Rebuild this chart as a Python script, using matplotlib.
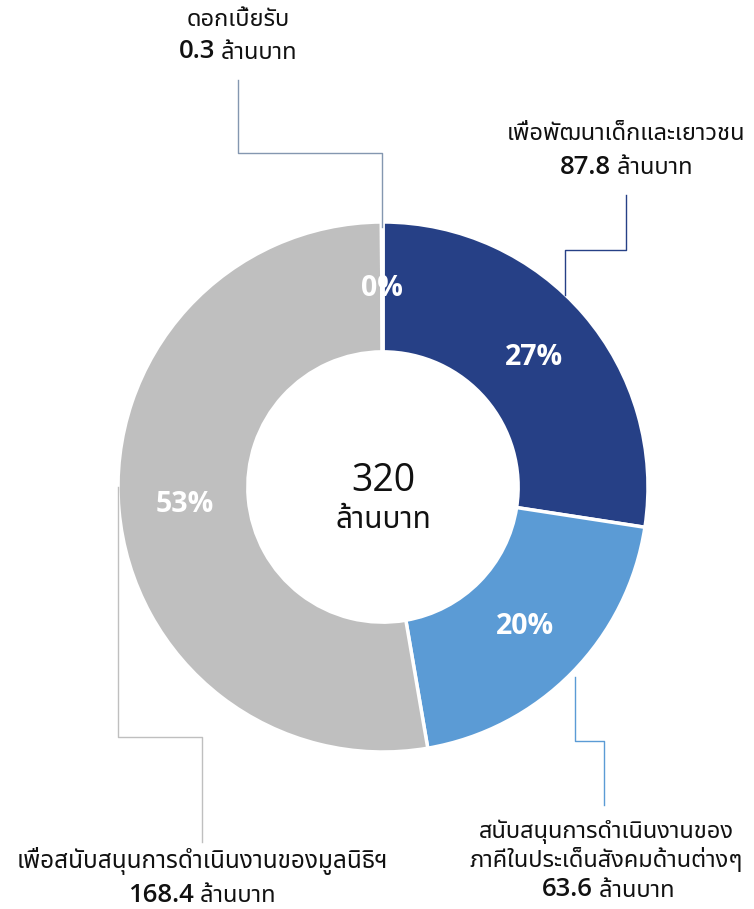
import matplotlib
matplotlib.use("Agg")
import matplotlib.pyplot as plt

# data
labels = ["เพื่อพัฒนาเด็กและเยาวชน",
          "สนับสนุนการดำเนินงานของ\nภาคีในประเด็นสังคมด้านต่างๆ",
          "เพื่อสนับสนุนการดำเนินงานของมูลนิธิฯ",
          "ดอกเบี้ยรับ"]
values = [87.8, 63.6, 168.4, 0.3]
colors = ["#264086", "#5B9BD5", "#BFBFBF", "#8497B0"]
line_colors = ["#264086", "#5B9BD5", "#BFBFBF", "#8497B0"]
total = 320
unit = "ล้านบาท"

THAI = ["Noto Sans Thai", "DejaVu Sans"]
NUM = ["Open Sans", "Noto Sans Thai", "DejaVu Sans"]
plt.rcParams['font.family'] = THAI

W, H = 754, 909
fig = plt.figure(figsize=(W / 100, H / 100), dpi=100)
ax = fig.add_axes([0, 0, 1, 1])
ax.axis('off')

def Y(py):
    return H - py

cx, cy, R = 383, 487, 265
wedges, texts, autotexts = ax.pie(
    values, colors=colors, startangle=90, counterclock=False,
    radius=R, center=(cx, Y(cy)), autopct='%.0f%%', pctdistance=0.75,
    wedgeprops=dict(width=R * 0.49, edgecolor='white', linewidth=2.5),
    textprops=dict(color='white', fontsize=20.5, fontweight='bold', family=NUM))
ax.set_xlim(0, W)
ax.set_ylim(0, H)
ax.set_aspect('equal')

# centre text
ax.text(cx, Y(481), str(total), ha='center', va='center', fontsize=27, family=NUM, color='#111111')
ax.text(cx, Y(520), unit, ha='center', va='center', fontsize=21.5, color='#111111')

renderer = fig.canvas.get_renderer()
TXT = 17

def value_line(x, py, val):
    a = ax.text(0, 0, f"{val:g}", fontsize=18.5, fontweight='semibold', family=NUM,
                va='center', ha='left', color='#111111')
    b = ax.text(0, 0, " " + unit, fontsize=TXT, va='center', ha='left', color='#111111')
    wa = a.get_window_extent(renderer).width
    wb = b.get_window_extent(renderer).width
    x0 = x - (wa + wb) / 2
    a.set_position((x0, Y(py)))
    b.set_position((x0 + wa, Y(py) - 1))

def leader(pts, color):
    xs = [p[0] for p in pts]
    ys = [Y(p[1]) for p in pts]
    ax.plot(xs, ys, color=color, lw=1)

# interest (top)
ax.text(238, Y(20), labels[3], ha='center', va='center', fontsize=TXT, color='#111111')
value_line(238, 52, values[3])
leader([(238, 80), (238, 153), (382, 153), (382, 227)], line_colors[3])

# children & youth (top right)
ax.text(626, Y(134), labels[0], ha='center', va='center', fontsize=TXT, color='#111111')
value_line(626, 167, values[0])
leader([(626, 195), (626, 250), (565, 250), (565, 295)], line_colors[0])

# partners (bottom right)
for i, s in enumerate(labels[1].split("\n")):
    ax.text(606, Y(832 + 28 * i), s, ha='center', va='center', fontsize=TXT, color='#111111')
value_line(608, 890, values[1])
leader([(575, 677), (575, 741), (604, 741), (604, 805)], line_colors[1])

# foundation (bottom left)
ax.text(202, Y(861), labels[2], ha='center', va='center', fontsize=TXT + 0.5, color='#111111')
value_line(202, 895, values[2])
leader([(118, 487), (118, 737), (202, 737), (202, 842)], line_colors[2])

fig.savefig("out.png", dpi=100)
